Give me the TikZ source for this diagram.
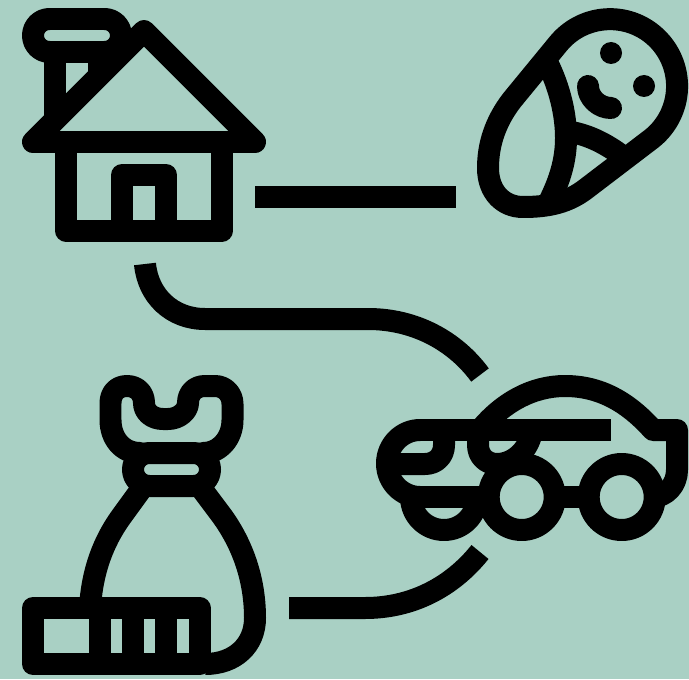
\documentclass[tikz,border=0pt]{standalone}
\usepackage{xcolor}
\usetikzlibrary{positioning}
\definecolor{iconbg}{RGB}{169,208,196}
\begin{document}
\begin{tikzpicture}[
  x=0.02cm, y=-0.02cm,
  icon/.style={draw=black, line width=0.44cm,
    line join=round, line cap=round},
  link/.style={draw=black, line width=0.44cm,
    line join=round, line cap=butt},
  dot/.style={fill=black}
]
\useasboundingbox (0,0) rectangle (689,679);
\fill[iconbg] (0,0) rectangle (689,679);

% House
\draw[icon, rounded corners=0.33cm]
  (33,19) rectangle (121,52);
\draw[icon] (55,52) -- (55,118);
\draw[icon] (99,52) -- (99,72);
\draw[icon] (33,142) -- (144,31) -- (255,142) -- cycle;
\draw[icon] (66,142) -- (66,230.5) -- (222,230.5) -- (222,142);
\draw[icon] (122,230) -- (122,175) -- (166,175) -- (166,230);

% Baby
\draw[link] (558,44) arc[start angle=219, end angle=412, radius=67]
  -- (587,188)
  .. controls (568,203) and (548,207) .. (523,207)
  .. controls (503,207) and (488,192) .. (488,168)
  .. controls (488,145) and (495,122) .. (512,100)
  -- cycle;
\draw[link] (547,62) .. controls (560,88) and (566,115) .. (566,138)
  .. controls (566,160) and (560,180) .. (549,202);
\draw[link] (566,131) .. controls (585,134) and (603,141) .. (625,158);
\fill[dot] (611,53) circle (11);
\fill[dot] (644,86) circle (11);
\draw[icon] (588,86) .. controls (588,98) and (599,108) .. (611,108);

% Car
\draw[icon] (521.7,497) circle (33);
\draw[icon] (621.7,497) circle (33);
\draw[icon] (411,497) arc[start angle=180, end angle=0, radius=33];
\draw[link] (420,497) -- (490,497);
\draw[link] (555,497) -- (588,497);
\draw[icon] (420,497) .. controls (402,497) and (387,482) .. (387,463.5)
  .. controls (387,445) and (402,430) .. (420,430);
\draw[link] (420,430) -- (610.7,430);
\draw[link] (388,464) -- (425,464)
  .. controls (436,464) and (444,456) .. (444,445) -- (444,430);
\draw[link] (478,430) -- (478,445)
  .. controls (478,456) and (486,464) .. (497,464)
  .. controls (515,464) and (530,448) .. (532,430);
\draw[link] (480,430) .. controls (503,402) and (533,386) .. (565,386)
  .. controls (600,386) and (628,402) .. (653,430)
  -- (677,430) -- (677,470)
  .. controls (677,485) and (666,497) .. (652,497);

% Dress
\draw[icon] (140,453) .. controls (122,453) and (110.5,438) .. (110.5,420)
  -- (110.5,403)
  .. controls (110.5,393) and (117,386) .. (127,386)
  .. controls (137,386) and (144,393) .. (144,403)
  .. controls (144,412) and (152,419) .. (163,419)
  -- (168,419)
  .. controls (179,419) and (188,411) .. (188,403)
  .. controls (188,393) and (195,386) .. (205,386)
  -- (215,386)
  .. controls (225,386) and (232.5,394) .. (232.5,404)
  -- (232.5,420)
  .. controls (232.5,438) and (220,453) .. (203,453);
\draw[icon, rounded corners=0.33cm]
  (133,453) rectangle (210,486);
\draw[link] (145,484) -- (121,517)
  .. controls (103,542) and (92,572) .. (90,608);
\draw[link] (198,484) -- (222,516)
  .. controls (243,545) and (255,580) .. (255,618)
  .. controls (255,645) and (235,664) .. (205,664);
\draw[icon] (33,608) rectangle (199.5,664);
\foreach \stripex in {100,133,166} {
  \draw[link] (\stripex,608) -- (\stripex,664);
}

% Links between the icons
\coordinate (houseright) at (255,197);
\coordinate (babyleft) at (456,197);
\coordinate (housedown) at (145,264);
\coordinate (cartop) at (480,375);
\coordinate (dressright) at (289,608);
\coordinate (carbottom) at (480,552);
\draw[link] (houseright) -- (babyleft);
\draw[link] (housedown) .. controls (148,296) and (172,319) .. (205,319)
  -- (368,319) .. controls (415,319) and (455,341) .. (cartop);
\draw[link] (dressright) -- (365,608)
  .. controls (412,608) and (452,587) .. (carbottom);
\end{tikzpicture}
\end{document}
